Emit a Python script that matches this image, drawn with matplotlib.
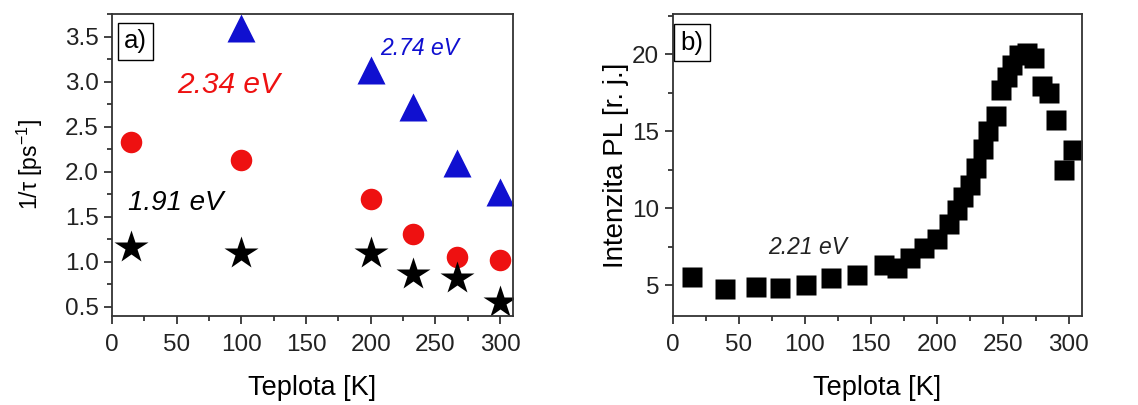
import matplotlib.pyplot as plt
from matplotlib.ticker import MultipleLocator

plt.rcParams['font.family'] = ['Liberation Sans', 'DejaVu Sans']
plt.rcParams['mathtext.fontset'] = 'custom'
plt.rcParams['mathtext.rm'] = 'Liberation Sans'

# panel a) - 1/tau vs temperature
t_tri = [100, 200, 233, 267, 300]
rate_274 = [3.60, 3.13, 2.72, 2.10, 1.77]
t_circ = [15, 100, 200, 233, 267, 300]
rate_234 = [2.33, 2.13, 1.70, 1.31, 1.05, 1.02]
t_star = [15, 100, 200, 233, 267, 300]
rate_191 = [1.17, 1.10, 1.10, 0.87, 0.82, 0.56]

# panel b) - PL intensity vs temperature
t_pl = [15, 40, 63, 81, 101, 120, 140, 160, 170, 180, 190, 200, 209, 215,
        220, 225, 230, 235, 239, 245, 249, 253, 257, 262, 268, 274, 280,
        285, 290, 296, 303]
pl = [5.56, 4.78, 4.91, 4.83, 5.0, 5.45, 5.69, 6.34, 6.14, 6.77, 7.44, 8.02,
      9.0, 9.85, 10.73, 11.5, 12.6, 13.86, 14.98, 15.95, 17.67, 18.53, 19.29,
      19.94, 20.04, 19.72, 17.9, 17.5, 15.7, 12.46, 13.8]

fig = plt.figure(figsize=(11.38, 4.05), dpi=100)
ax1 = fig.add_axes([0.0984, 0.2198, 0.3524, 0.7456])
ax2 = fig.add_axes([0.591, 0.2198, 0.3598, 0.7456])

ax1.plot(t_tri, rate_274, '^', color='#1010d0', ms=20, mec='none')
ax1.plot(t_circ, rate_234, 'o', color='#ee1111', ms=15.5, mec='none')
ax1.plot(t_star, rate_191, '*', color='black', ms=25, mec='none')
ax1.set_xlim(0, 310)
ax1.set_ylim(0.4, 3.75)
ax1.xaxis.set_major_locator(MultipleLocator(50))
ax1.xaxis.set_minor_locator(MultipleLocator(25))
ax1.yaxis.set_major_locator(MultipleLocator(0.5))
ax1.yaxis.set_minor_locator(MultipleLocator(0.25))
ax1.set_xlabel('Teplota [K]', fontsize=19.5, labelpad=14)
ax1.set_ylabel('1/τ [ps$^{\\mathregular{-1}}$]', fontsize=16.5, labelpad=14)
ax1.text(90, 2.96, '2.34 eV', color='#ee1111', fontsize=21.5, style='italic',
         ha='center', va='center')
ax1.text(238, 3.37, '2.74 eV', color='#1010d0', fontsize=16.5, style='italic',
         ha='center', va='center')
ax1.text(49, 1.65, '1.91 eV', color='black', fontsize=20, style='italic',
         ha='center', va='center')
ax1.text(0.03, 0.95, 'a)', transform=ax1.transAxes, fontsize=18.5,
         ha='left', va='top',
         bbox=dict(boxstyle='square,pad=0.25', fc='white', ec='black', lw=1))

ax2.plot(t_pl, pl, 's', color='black', ms=14.5, mec='none')
ax2.set_xlim(0, 310)
ax2.set_ylim(3, 22.6)
ax2.xaxis.set_major_locator(MultipleLocator(50))
ax2.xaxis.set_minor_locator(MultipleLocator(25))
ax2.yaxis.set_major_locator(MultipleLocator(5))
ax2.yaxis.set_minor_locator(MultipleLocator(2.5))
ax2.set_xlabel('Teplota [K]', fontsize=19.5, labelpad=14)
ax2.set_ylabel('Intenzita PL [r. j.]', fontsize=20, labelpad=2)
ax2.text(102, 7.43, '2.21 eV', color='#222222', fontsize=16.5, style='italic',
         ha='center', va='center')
ax2.text(0.02, 0.945, 'b)', transform=ax2.transAxes, fontsize=18.5,
         ha='left', va='top',
         bbox=dict(boxstyle='square,pad=0.25', fc='white', ec='black', lw=1))

for ax in (ax1, ax2):
    ax.tick_params(which='major', direction='out', length=6, width=1.2,
                   labelsize=17.5, colors='#222222')
    ax.tick_params(which='minor', direction='out', length=3.5, width=1.2,
                   colors='#222222')
    ax.tick_params(axis='x', pad=7)
    for s in ax.spines.values():
        s.set_linewidth(1.3)
        s.set_color('#333333')

fig.savefig('out.png', dpi=100)
